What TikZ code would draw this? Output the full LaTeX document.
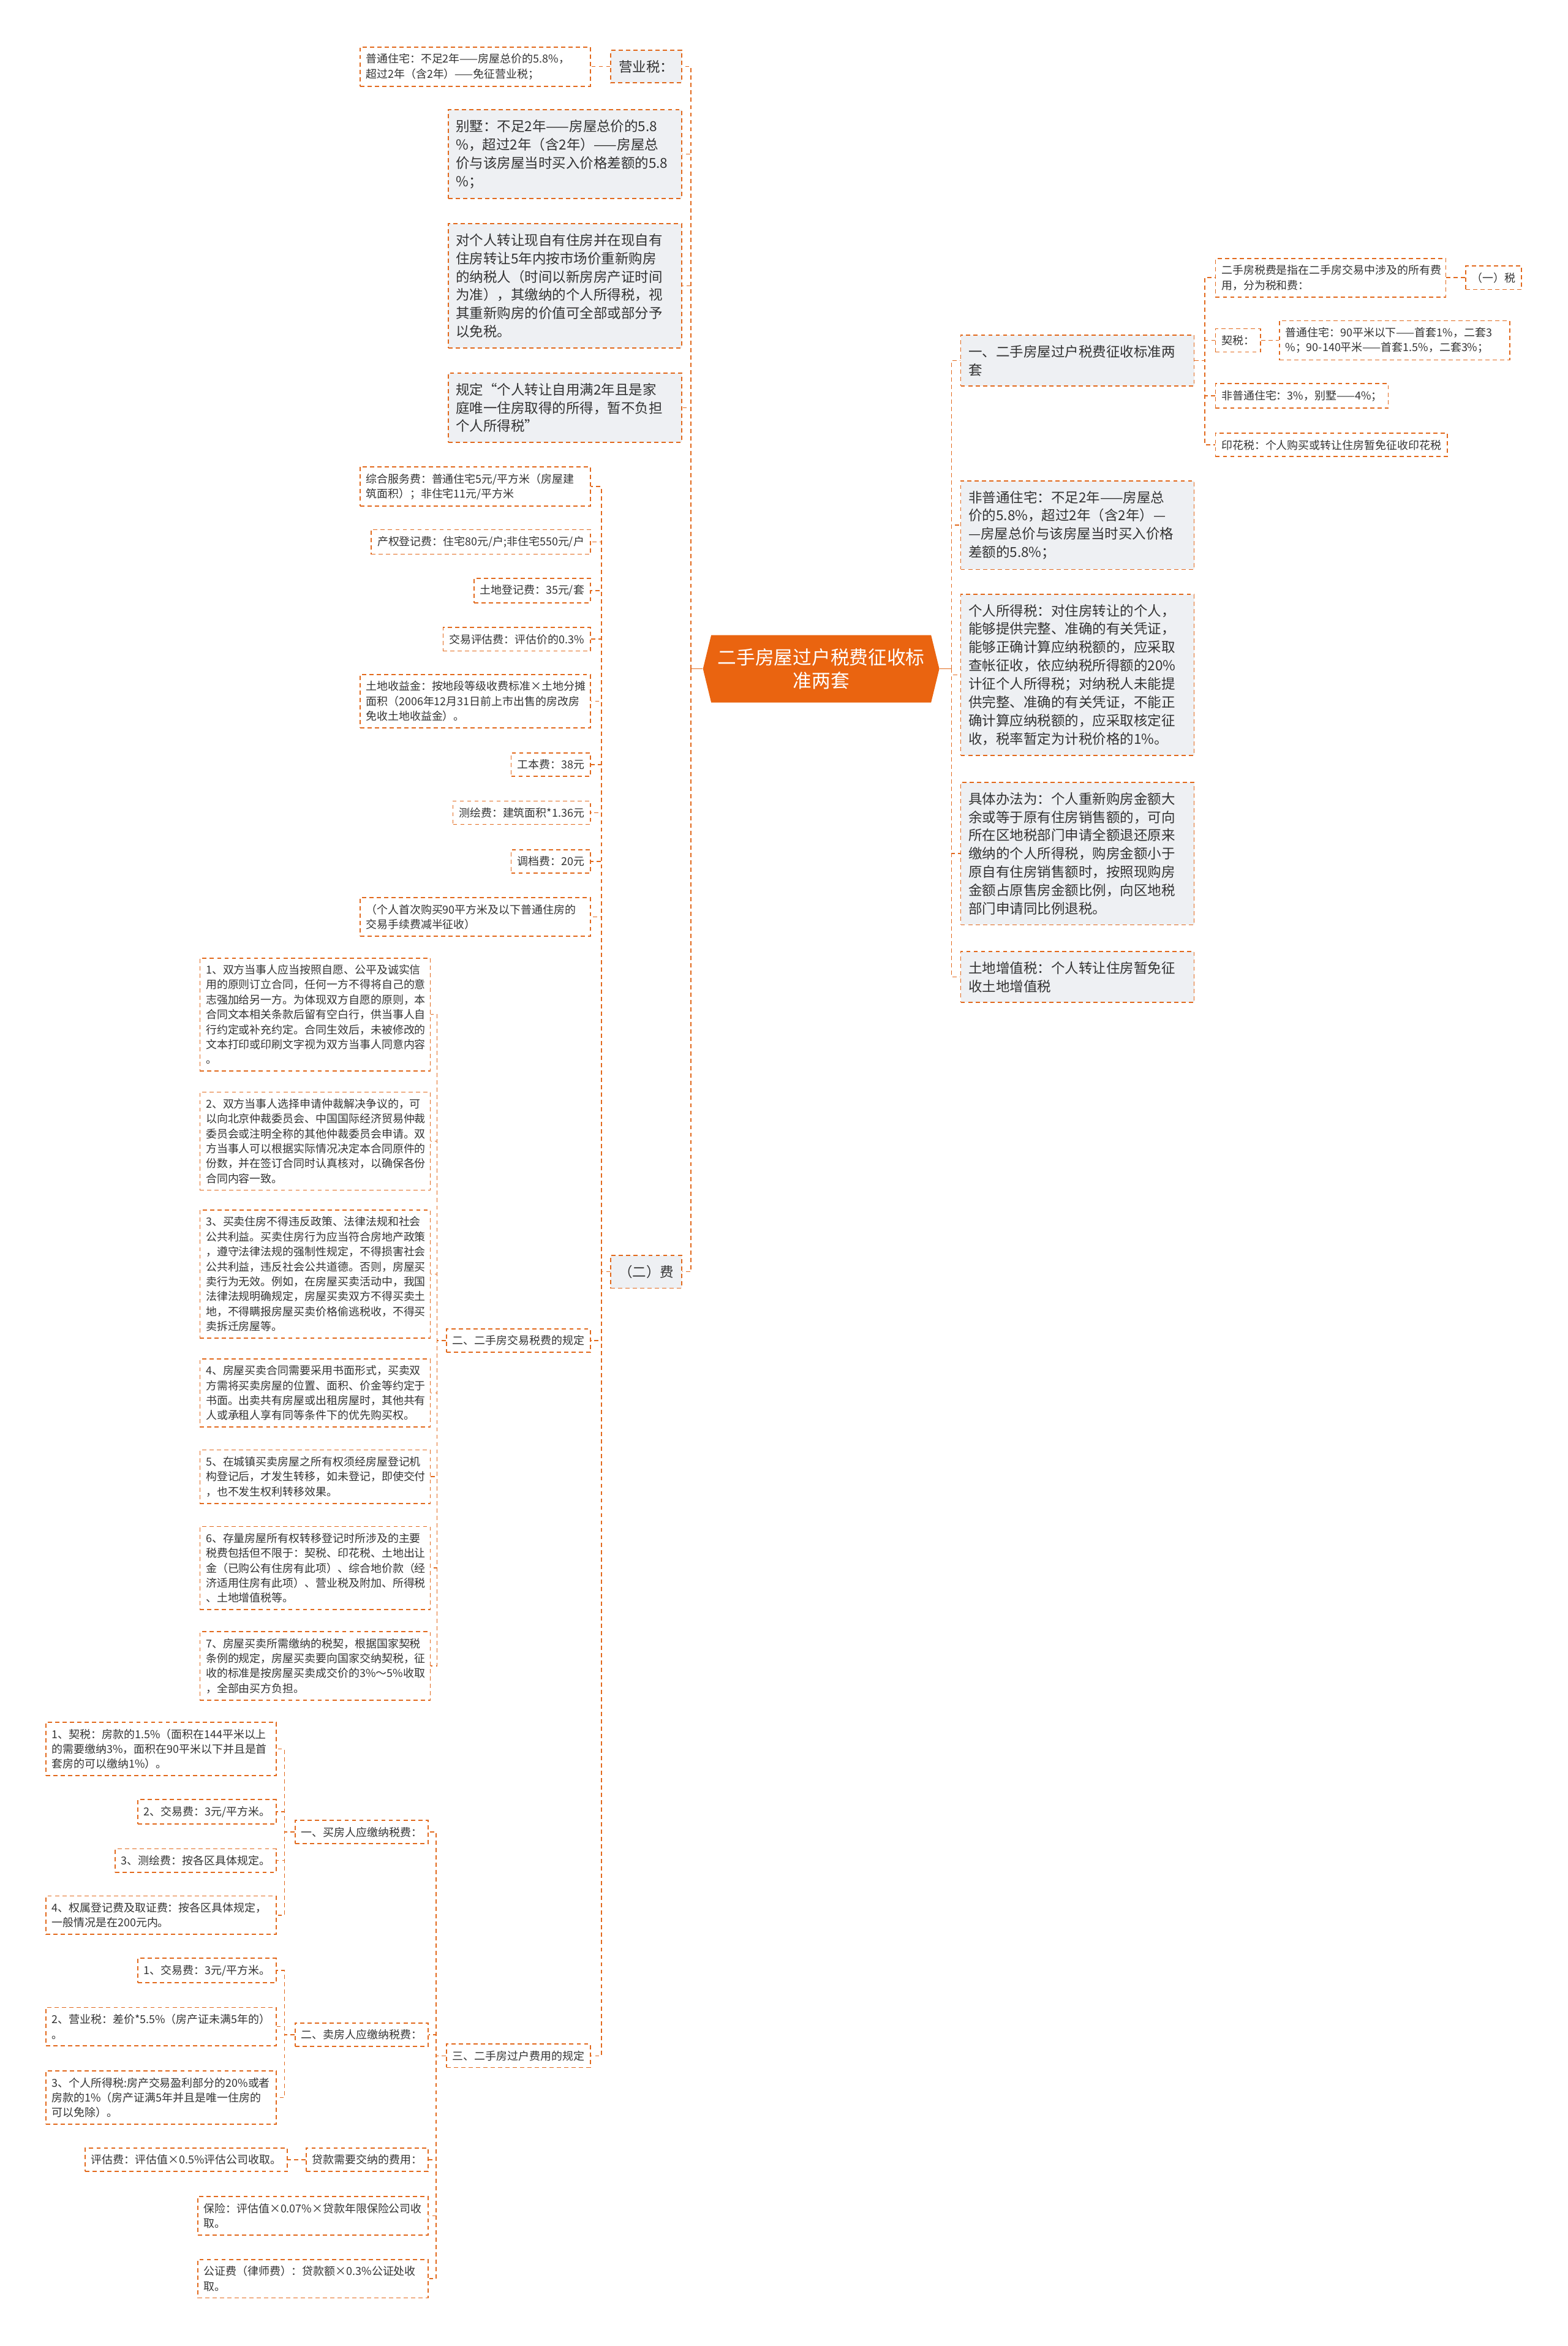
\documentclass[tikz,border=0pt]{standalone}
\usepackage{fontspec}
\setmainfont{Noto Sans CJK SC}
\definecolor{lineor}{HTML}{E2691C}
\definecolor{hubor}{HTML}{EA6410}
\definecolor{boxgray}{HTML}{EEF0F3}
\definecolor{txt}{HTML}{333333}
\tikzset{
  link/.style={draw=lineor, line width=0.9pt, dash pattern=on 4pt off 3pt},
  stub/.style={draw=lineor, line width=0.9pt},
  box/.style={draw=lineor, line width=1pt, dash pattern=on 4pt off 3pt, align=left, text=txt},
  graybox/.style={box, fill=boxgray, font=\fontsize{13.1}{17.4}\selectfont, inner xsep=2.6mm, inner ysep=3.3mm},
  whitebox/.style={box, fill=white, font=\fontsize{10.45}{14.2}\selectfont, inner xsep=2mm, inner ysep=2.2mm},
  bigw/.style={text width=72.8mm},
  smallw/.style={text width=73mm},
  hubtext/.style={text=white, font=\fontsize{17.9}{22}\selectfont, align=center, minimum width=79mm, minimum height=22.5mm, inner sep=0pt},
  lft/.style={anchor=east},
  rgt/.style={anchor=west}
}
\begin{document}
\begin{tikzpicture}[x=0.5mm,y=-0.5mm]
\useasboundingbox (0,0) rectangle (1048,1568);
\fill[white] (0,0) rectangle (1048,1568);

% centre
\fill[hubor] (470,447) -- (475.5,424.5) -- (622.5,424.5) -- (628,447) -- (622.5,469.5) -- (475.5,469.5) -- cycle;
\node[hubtext] (hub) at (549,447) {二手房屋过户税费征收标\\准两套};

% left, first level
\node[graybox, lft] (ys) at (456,44.5) {营业税：};
\node[graybox, bigw, lft] (bs) at (456,103) {别墅：不足2年——房屋总价的5.8\\\%，超过2年（含2年）——房屋总\\价与该房屋当时买入价格差额的5.8\\\%；};
\node[graybox, bigw, lft] (dg) at (456,191) {对个人转让现自有住房并在现自有\\住房转让5年内按市场价重新购房\\的纳税人（时间以新房房产证时间\\为准），其缴纳的个人所得税，视\\其重新购房的价值可全部或部分予\\以免税。};
\node[graybox, bigw, lft] (gd) at (456,272.5) {规定“个人转让自用满2年且是家\\庭唯一住房取得的所得，暂不负担\\个人所得税”};
\node[graybox, lft] (fei) at (456,850) {（二）费};

\node[whitebox, smallw, lft] (pt) at (395,44.5) {普通住宅：不足2年——房屋总价的5.8\%，\\超过2年（含2年）——免征营业税；};

% fees
\node[whitebox, smallw, lft] (zf) at (395,325.2) {综合服务费：普通住宅5元/平方米（房屋建\\筑面积）；非住宅11元/平方米};
\node[whitebox, lft] (cq) at (395,362.2) {产权登记费：住宅80元/户;非住宅550元/户};
\node[whitebox, lft] (td) at (395,394.7) {土地登记费：35元/套};
\node[whitebox, lft] (jy) at (395,427.2) {交易评估费：评估价的0.3\%};
\node[whitebox, smallw, lft] (sy) at (395,468.7) {土地收益金：按地段等级收费标准×土地分摊\\面积（2006年12月31日前上市出售的房改房\\免收土地收益金）。};
\node[whitebox, lft] (gb) at (395,511) {工本费：38元};
\node[whitebox, lft] (ch) at (395,543.2) {测绘费：建筑面积*1.36元};
\node[whitebox, lft] (dd) at (395,575.8) {调档费：20元};
\node[whitebox, smallw, lft] (sc) at (395,612.8) {（个人首次购买90平方米及以下普通住房的\\交易手续费减半征收）};
\node[whitebox, lft] (gz) at (395,896) {二、二手房交易税费的规定};
\node[whitebox, lft] (gh) at (395,1374) {三、二手房过户费用的规定};

% rules of second-hand deals
\node[whitebox, smallw, lft] (i1) at (288,678) {1、双方当事人应当按照自愿、公平及诚实信\\用的原则订立合同，任何一方不得将自己的意\\志强加给另一方。为体现双方自愿的原则，本\\合同文本相关条款后留有空白行，供当事人自\\行约定或补充约定。合同生效后，未被修改的\\文本打印或印刷文字视为双方当事人同意内容\\。};
\node[whitebox, smallw, lft] (i2) at (288,762.7) {2、双方当事人选择申请仲裁解决争议的，可\\以向北京仲裁委员会、中国国际经济贸易仲裁\\委员会或注明全称的其他仲裁委员会申请。双\\方当事人可以根据实际情况决定本合同原件的\\份数，并在签订合同时认真核对，以确保各份\\合同内容一致。};
\node[whitebox, smallw, lft] (i3) at (288,851.5) {3、买卖住房不得违反政策、法律法规和社会\\公共利益。买卖住房行为应当符合房地产政策\\，遵守法律法规的强制性规定，不得损害社会\\公共利益，违反社会公共道德。否则，房屋买\\卖行为无效。例如，在房屋买卖活动中，我国\\法律法规明确规定，房屋买卖双方不得买卖土\\地，不得瞒报房屋买卖价格偷逃税收，不得买\\卖拆迁房屋等。};
\node[whitebox, smallw, lft] (i4) at (288,931) {4、房屋买卖合同需要采用书面形式，买卖双\\方需将买卖房屋的位置、面积、价金等约定于\\书面。出卖共有房屋或出租房屋时，其他共有\\人或承租人享有同等条件下的优先购买权。};
\node[whitebox, smallw, lft] (i5) at (288,987) {5、在城镇买卖房屋之所有权须经房屋登记机\\构登记后，才发生转移，如未登记，即使交付\\，也不发生权利转移效果。};
\node[whitebox, smallw, lft] (i6) at (288,1048) {6、存量房屋所有权转移登记时所涉及的主要\\税费包括但不限于：契税、印花税、土地出让\\金（已购公有住房有此项）、综合地价款（经\\济适用住房有此项）、营业税及附加、所得税\\、土地增值税等。};
\node[whitebox, smallw, lft] (i7) at (288,1113.5) {7、房屋买卖所需缴纳的税契，根据国家契税\\条例的规定，房屋买卖要向国家交纳契税，征\\收的标准是按房屋买卖成交价的3\%～5\%收取\\，全部由买方负担。};

% transfer costs
\node[whitebox, lft] (buy) at (286.5,1224.5) {一、买房人应缴纳税费：};
\node[whitebox, lft] (sell) at (286.5,1360) {二、卖房人应缴纳税费：};
\node[whitebox, lft] (loan) at (286.5,1443.5) {贷款需要交纳的费用：};
\node[whitebox, smallw, lft] (ins) at (286.5,1481) {保险：评估值×0.07\%×贷款年限保险公司收\\取。};
\node[whitebox, smallw, lft] (nota) at (286.5,1523) {公证费（律师费）：贷款额×0.3\%公证处收\\取。};

\node[whitebox, smallw, lft] (b1) at (185,1169) {1、契税：房款的1.5\%（面积在144平米以上\\的需要缴纳3\%，面积在90平米以下并且是首\\套房的可以缴纳1\%）。};
\node[whitebox, lft] (b2) at (185,1211) {2、交易费：3元/平方米。};
\node[whitebox, lft] (b3) at (185,1243.5) {3、测绘费：按各区具体规定。};
\node[whitebox, smallw, lft] (b4) at (185,1280) {4、权属登记费及取证费：按各区具体规定，\\一般情况是在200元内。};
\node[whitebox, lft] (s1) at (185,1317) {1、交易费：3元/平方米。};
\node[whitebox, smallw, lft] (s2) at (185,1354.5) {2、营业税：差价*5.5\%（房产证未满5年的）\\。};
\node[whitebox, smallw, lft] (s3) at (185,1402) {3、个人所得税:房产交易盈利部分的20\%或者\\房款的1\%（房产证满5年并且是唯一住房的\\可以免除）。};
\node[whitebox, lft] (ev) at (192.5,1443.5) {评估费：评估值×0.5\%评估公司收取。};

% right side
\node[graybox, bigw, rgt] (r1) at (642,241) {一、二手房屋过户税费征收标准两\\套};
\node[graybox, bigw, rgt] (r2) at (642,351) {非普通住宅：不足2年——房屋总\\价的5.8\%，超过2年（含2年）—\\—房屋总价与该房屋当时买入价格\\差额的5.8\%；};
\node[graybox, bigw, rgt] (r3) at (642,451) {个人所得税：对住房转让的个人，\\能够提供完整、准确的有关凭证，\\能够正确计算应纳税额的，应采取\\查帐征收，依应纳税所得额的20\%\\计征个人所得税；对纳税人未能提\\供完整、准确的有关凭证，不能正\\确计算应纳税额的，应采取核定征\\收，税率暂定为计税价格的1\%。};
\node[graybox, bigw, rgt] (r4) at (642,570.5) {具体办法为：个人重新购房金额大\\余或等于原有住房销售额的，可向\\所在区地税部门申请全额退还原来\\缴纳的个人所得税，购房金额小于\\原自有住房销售额时，按照现购房\\金额占原售房金额比例，向区地税\\部门申请同比例退税。};
\node[graybox, bigw, rgt] (r5) at (642,653) {土地增值税：个人转让住房暂免征\\收土地增值税};

\node[whitebox, smallw, rgt] (a1) at (812.3,185.6) {二手房税费是指在二手房交易中涉及的所有费\\用，分为税和费：};
\node[whitebox, rgt] (t1) at (979.6,185.6) {（一）税};
\node[whitebox, rgt] (a2) at (812.3,227.5) {契税：};
\node[whitebox, smallw, rgt] (a2c) at (855,227.5) {普通住宅：90平米以下——首套1\%，二套3\\\%；90-140平米——首套1.5\%，二套3\%；};
\node[whitebox, rgt] (a3) at (812.3,264.6) {非普通住宅：3\%，别墅——4\%；};
\node[whitebox, rgt] (a4) at (812.3,297.4) {印花税：个人购买或转让住房暂免征收印花税};

% connectors
\draw[stub] (hub.west) -- ++(-8,0) coordinate (lbus);
\foreach \n in {ys,bs,dg,gd,fei} \draw[link] (lbus) |- (\n.east);
\draw[stub] (hub.east) -- ++(8,0) coordinate (rbus);
\foreach \n in {r1,r2,r3,r4,r5} \draw[link] (rbus) |- (\n.west);

\draw[link] (ys.west) -- (pt.east);
\foreach \n in {zf,cq,td,jy,sy,gb,ch,dd,sc,gz,gh} \draw[link] (fei.west) -- ++(-6,0) |- (\n.east);
\foreach \n in {i1,i2,i3,i4,i5,i6,i7} \draw[link] (gz.west) -- ++(-6,0) |- (\n.east);
\foreach \n in {buy,sell,loan,ins,nota} \draw[link] (gh.west) -- ++(-6.5,0) |- (\n.east);
\foreach \n in {b1,b2,b3,b4} \draw[link] (buy.west) -- ++(-6.8,0) |- (\n.east);
\foreach \n in {s1,s2,s3} \draw[link] (sell.west) -- ++(-6.8,0) |- (\n.east);
\draw[link] (loan.west) -- (ev.east);

\foreach \n in {a1,a2,a3,a4} \draw[link] (r1.east) -- ++(6.8,0) |- (\n.west);
\draw[link] (a1.east) -- (t1.west);
\draw[link] (a2.east) -- (a2c.west);
\end{tikzpicture}
\end{document}
